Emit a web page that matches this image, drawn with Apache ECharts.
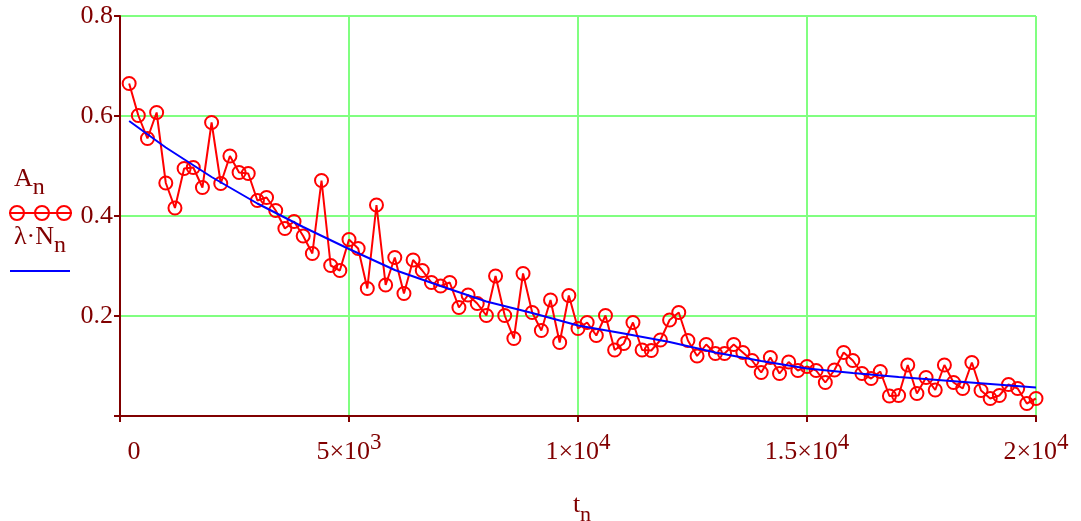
<!DOCTYPE html>
<html>
<head>
<meta charset="utf-8">
<script src="https://cdn.jsdelivr.net/npm/echarts@6/dist/echarts.min.js"></script>
<style>
  html, body { margin: 0; padding: 0; background: #fff; }
  #root { width: 1081px; height: 521px; }
</style>
</head>
<body>
<div id="root"></div>
<script>
// t_n values (x)
const tValues = [
  200, 400, 600, 800, 1000, 1200, 1400, 1600, 1800, 2000,
  2200, 2400, 2600, 2800, 3000, 3200, 3400, 3600, 3800, 4000,
  4200, 4400, 4600, 4800, 5000, 5200, 5400, 5600, 5800, 6000,
  6200, 6400, 6600, 6800, 7000, 7200, 7400, 7600, 7800, 8000,
  8200, 8400, 8600, 8800, 9000, 9200, 9400, 9600, 9800, 10000,
  10200, 10400, 10600, 10800, 11000, 11200, 11400, 11600, 11800, 12000,
  12200, 12400, 12600, 12800, 13000, 13200, 13400, 13600, 13800, 14000,
  14200, 14400, 14600, 14800, 15000, 15200, 15400, 15600, 15800, 16000,
  16200, 16400, 16600, 16800, 17000, 17200, 17400, 17600, 17800, 18000,
  18200, 18400, 18600, 18800, 19000, 19200, 19400, 19600, 19800, 20000
];
// A_n (red, circles)
const aValues = [
  0.665, 0.601, 0.555, 0.607, 0.466, 0.416, 0.495, 0.497, 0.457, 0.587,
  0.465, 0.52, 0.487, 0.485, 0.431, 0.437, 0.411, 0.375, 0.389, 0.36,
  0.325, 0.471, 0.301, 0.291, 0.353, 0.335, 0.255, 0.422, 0.262, 0.317,
  0.245, 0.312, 0.291, 0.267, 0.26, 0.267, 0.217, 0.242, 0.225, 0.201,
  0.28, 0.201, 0.155, 0.285, 0.207, 0.171, 0.232, 0.147, 0.241, 0.175,
  0.187, 0.161, 0.201, 0.132, 0.145, 0.187, 0.132, 0.131, 0.152, 0.192,
  0.207, 0.151, 0.12, 0.143, 0.125, 0.125, 0.143, 0.127, 0.111, 0.087,
  0.117, 0.085, 0.108, 0.091, 0.099, 0.091, 0.067, 0.092, 0.127, 0.111,
  0.085, 0.075, 0.089, 0.04, 0.041, 0.102, 0.045, 0.077, 0.052, 0.102,
  0.067, 0.055, 0.107, 0.051, 0.035, 0.041, 0.063, 0.055, 0.025, 0.035
];
// lambda*N_n (blue line)
const nT = [200, 1000, 2000, 3000, 4000, 5000, 6000, 7000, 8000, 9000, 10000,
  11000, 12000, 13000, 14000, 15000, 16000, 17000, 18000, 19000, 20000];
const nValues = [0.59, 0.537, 0.478, 0.425, 0.378, 0.334, 0.292, 0.26, 0.229, 0.206, 0.181,
  0.165, 0.148, 0.127, 0.11, 0.095, 0.086, 0.078, 0.071, 0.064, 0.057];
// tick labels
const xTicks = { 0: '{z|0}', 5000: '{n|5×10}{s|3}', 10000: '{n|1×10}{s|4}', 15000: '{n|1.5×10}{s|4}', 20000: '{n|2×10}{s|4}' };
const yTicks = { 0.2: '0.2', 0.4: '0.4', 0.6: '0.6', 0.8: '0.8' };

const font = 'Liberation Serif, Times New Roman, DejaVu Serif, serif';
const dark = '#800000';
const gridGreen = '#80ff80';

let root = document.getElementById('root');
let myCharts = echarts.init(root);

let option = {
  animation: false,
  backgroundColor: '#fff',
  grid: { left: 120, right: 45, top: 16, bottom: 105, outerBoundsMode: 'none' },
  xAxis: {
    type: 'value',
    min: 0,
    max: 20000,
    interval: 5000,
    name: '{m|t}{b|n}',
    nameLocation: 'middle',
    nameGap: 76,
    nameTextStyle: {
      rich: {
        m: { fontSize: 26, fontFamily: font, color: dark, lineHeight: 34, verticalAlign: 'top', padding: [0, 0, 0, 8] },
        b: { fontSize: 22, fontFamily: font, color: dark, lineHeight: 34, verticalAlign: 'bottom' }
      }
    },
    axisLine: { lineStyle: { color: dark, width: 2 } },
    axisTick: { show: true, length: 6, lineStyle: { color: dark, width: 2 } },
    splitLine: { show: true, lineStyle: { color: gridGreen, width: 2 } },
    axisLabel: {
      margin: 15,
      formatter: function (v) { return xTicks[v] || ''; },
      rich: {
        z: { fontSize: 26, fontFamily: font, color: dark, lineHeight: 34, verticalAlign: 'bottom', padding: [0, 0, 0, 28] },
        n: { fontSize: 26, fontFamily: font, color: dark, lineHeight: 34, verticalAlign: 'bottom' },
        s: { fontSize: 23, fontFamily: font, color: dark, lineHeight: 34, verticalAlign: 'top' }
      }
    }
  },
  yAxis: {
    type: 'value',
    min: 0,
    max: 0.8,
    interval: 0.2,
    axisLine: { show: true, lineStyle: { color: dark, width: 2 } },
    axisTick: { show: true, length: 6, lineStyle: { color: dark, width: 2 } },
    splitLine: { show: true, lineStyle: { color: gridGreen, width: 2 } },
    axisLabel: {
      margin: 7,
      fontSize: 26,
      fontFamily: font,
      color: dark,
      padding: [7, 0, 0, 0],
      formatter: function (v) { return yTicks[Math.round(v * 10) / 10] || ''; }
    }
  },
  graphic: [
    {
      type: 'text', left: 14, top: 166,
      style: {
        text: '{m|A}{s|n}',
        rich: {
          m: { fontSize: 26, fontFamily: font, fill: dark, lineHeight: 34, verticalAlign: 'top' },
          s: { fontSize: 24, fontFamily: font, fill: dark, lineHeight: 34, verticalAlign: 'bottom' }
        }
      }
    },
    { type: 'line', shape: { x1: 9, y1: 213, x2: 72, y2: 213 }, style: { stroke: '#ff0000', lineWidth: 2 } },
    { type: 'circle', shape: { cx: 17, cy: 213, r: 7 }, style: { fill: 'none', stroke: '#ff0000', lineWidth: 2 } },
    { type: 'circle', shape: { cx: 42, cy: 213, r: 7 }, style: { fill: 'none', stroke: '#ff0000', lineWidth: 2 } },
    { type: 'circle', shape: { cx: 64, cy: 213, r: 7 }, style: { fill: 'none', stroke: '#ff0000', lineWidth: 2 } },
    {
      type: 'text', left: 14, top: 224,
      style: {
        text: '{m|λ·N}{s|n}',
        rich: {
          m: { fontSize: 26, fontFamily: font, fill: dark, lineHeight: 34, verticalAlign: 'top' },
          s: { fontSize: 24, fontFamily: font, fill: dark, lineHeight: 34, verticalAlign: 'bottom' }
        }
      }
    },
    { type: 'line', shape: { x1: 10, y1: 271, x2: 70, y2: 271 }, style: { stroke: '#0000ff', lineWidth: 2 } }
  ],
  series: [
    {
      name: 'A_n',
      type: 'line',
      data: tValues.map((t, i) => [t, aValues[i]]),
      symbol: 'circle',
      symbolSize: 13,
      showSymbol: true,
      lineStyle: { color: '#ff0000', width: 2 },
      itemStyle: { color: 'rgba(0,0,0,0)', borderColor: '#ff0000', borderWidth: 2 },
      z: 3
    },
    {
      name: 'lambda N_n',
      type: 'line',
      data: nT.map((t, i) => [t, nValues[i]]),
      showSymbol: false,
      symbol: 'none',
      lineStyle: { color: '#0000ff', width: 2 },
      z: 4
    }
  ]
};
myCharts.setOption(option);
</script>
</body>
</html>
